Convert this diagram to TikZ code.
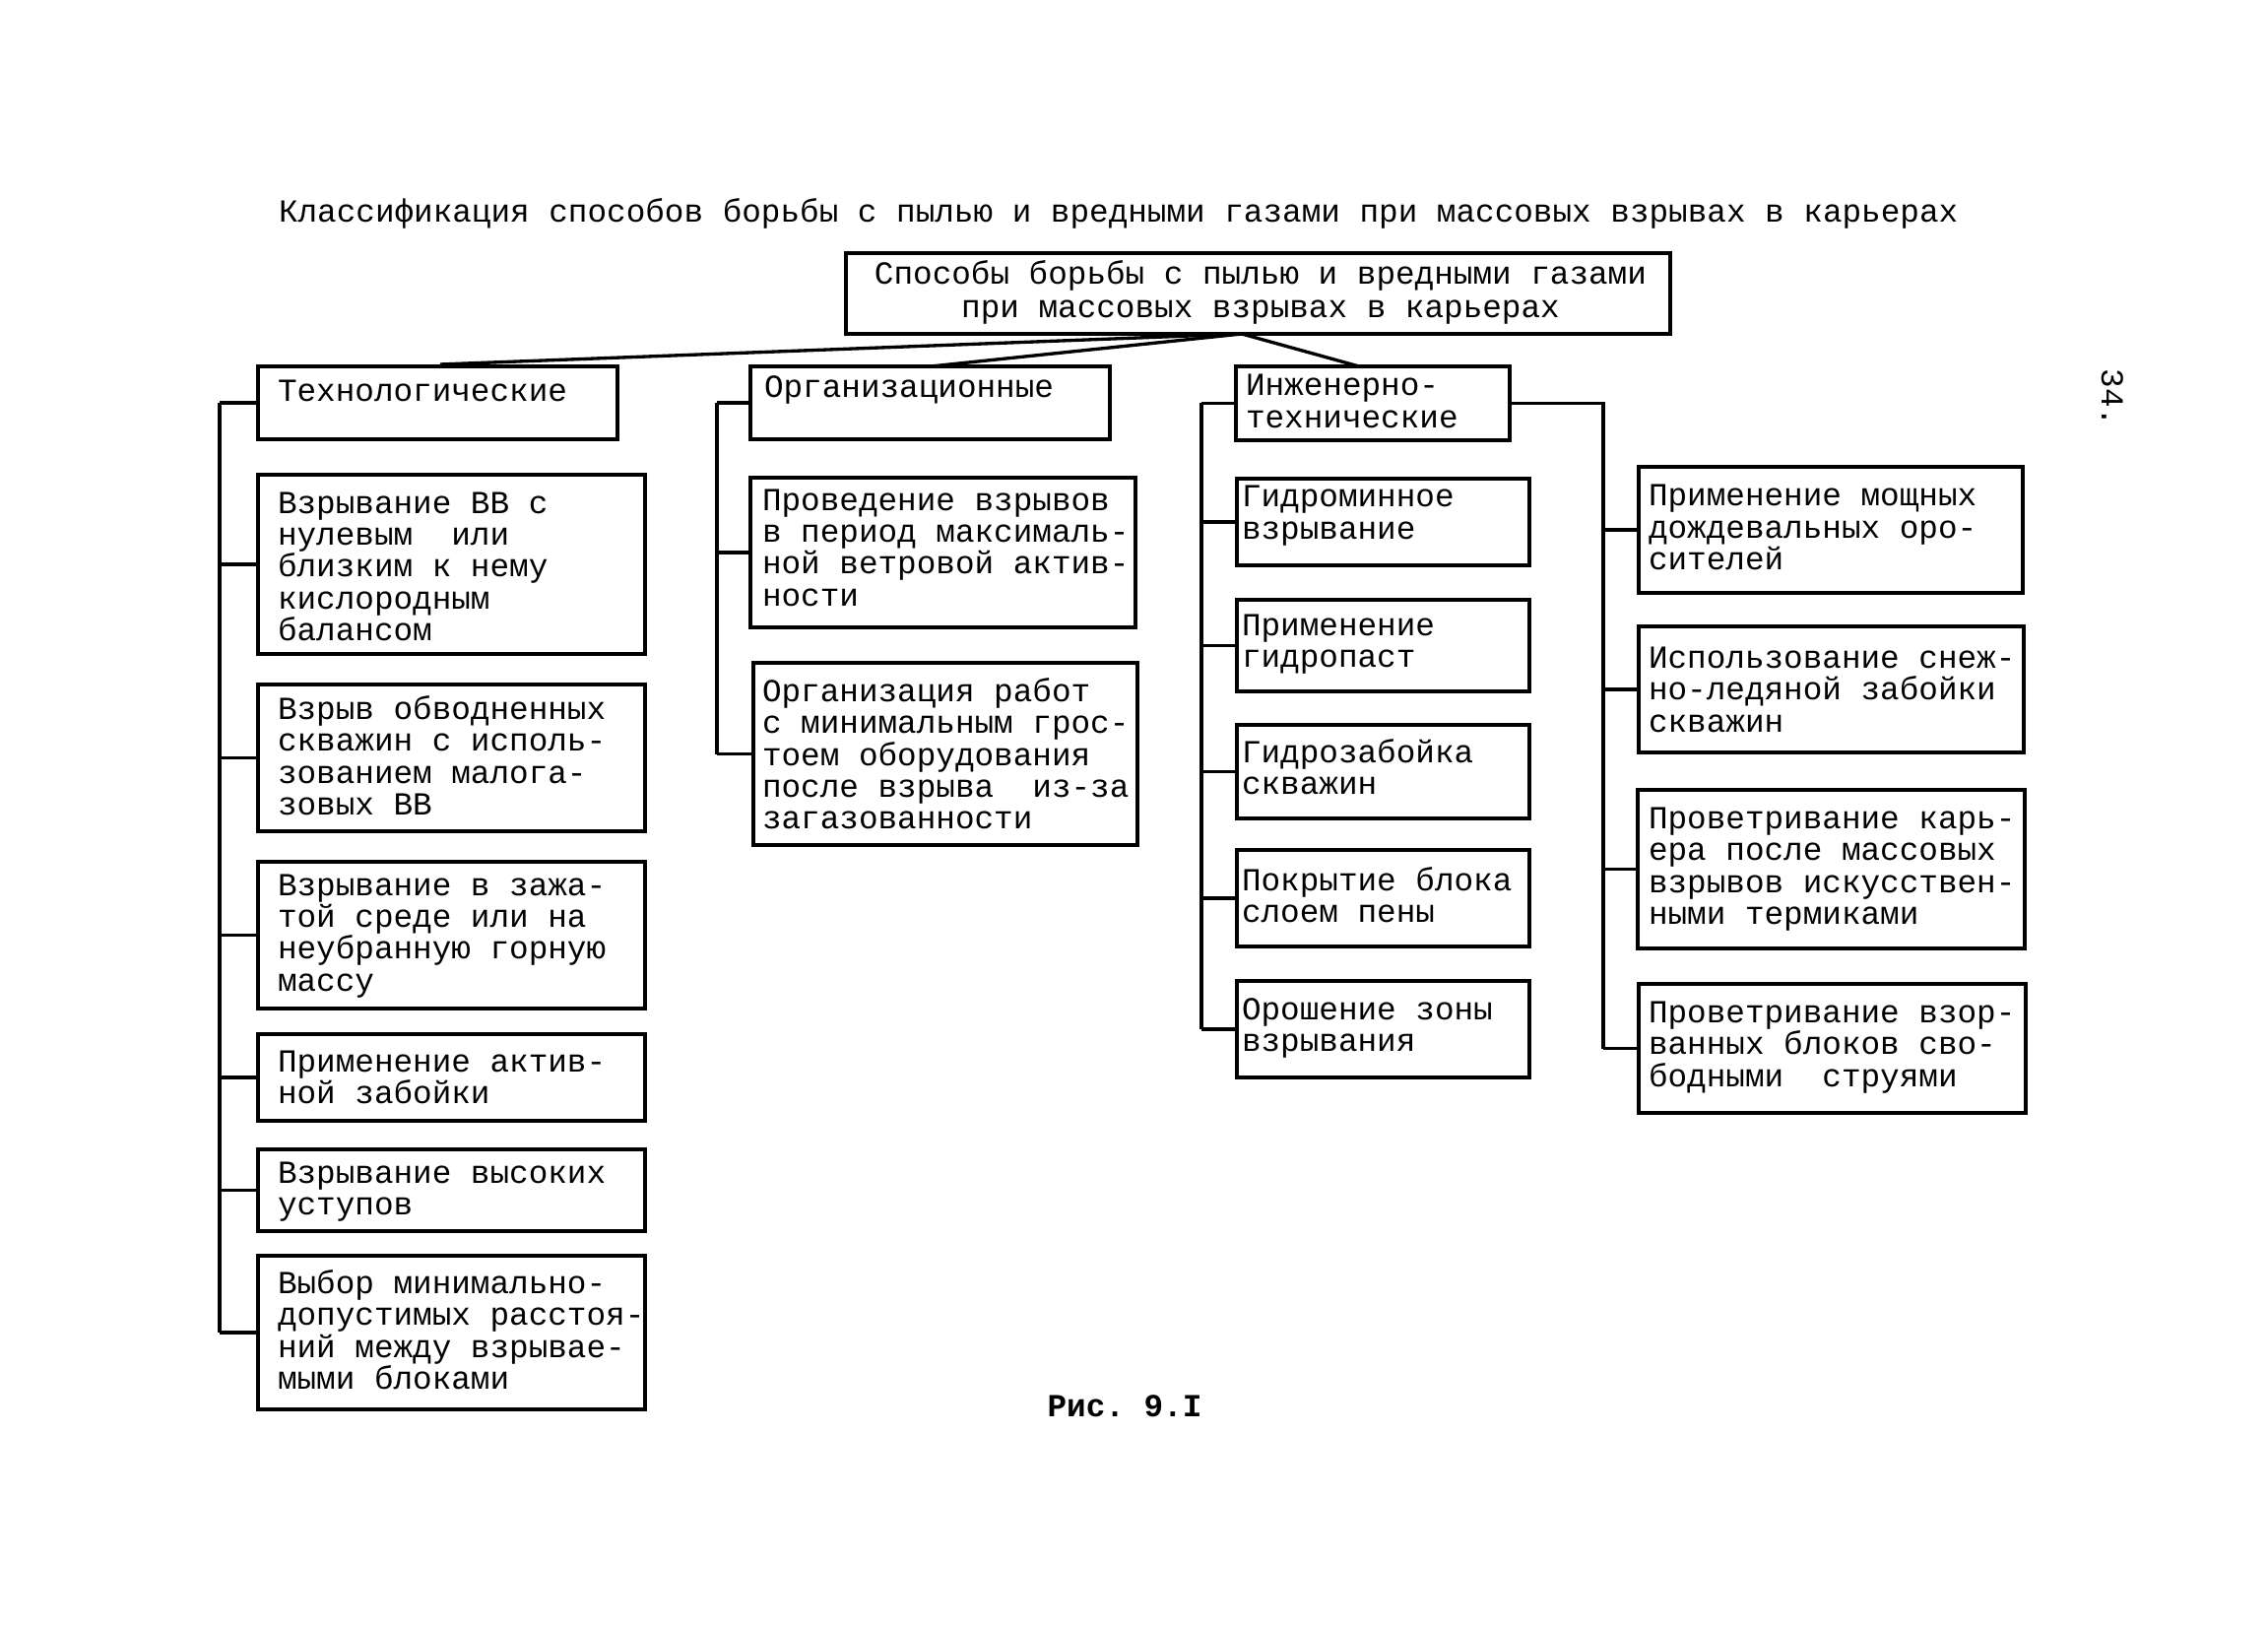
\documentclass[tikz,border=0pt]{standalone}
\usepackage{fontspec}
\setmainfont{Liberation Mono}
\frenchspacing
\newcommand{\dfont}{\fontsize{9.8pt}{9.75pt}\selectfont}
\newcommand{\mfont}{\fontsize{9.8pt}{10.2pt}\selectfont}
\newcommand{\fixsp}{\spaceskip=0.6em\relax\xspaceskip=0.6em\relax}
\tikzset{
  boxst/.style={draw, line width=1pt, rectangle, inner sep=0pt, outer sep=0pt},
  txtst/.style={inner sep=0pt, outer sep=0pt, align=left, font=\dfont},
  conn/.style={line width=1pt},
}
% name, x1, y1, x2, y2, text x, first baseline y, text
\newcommand{\bx}[8]{%
  \node[boxst, minimum width={(#4-#2)*0.3pt}, minimum height={(#5-#3)*0.3pt}] (#1) at ({(#2+#4)/2},{(#3+#5)/2}) {};%
  \node[txtst, text width={(#4-#6+40)*0.3pt}, anchor=base west] (#1t) at (#6,#7) {\fixsp #8};%
}
\begin{document}
\begin{tikzpicture}[x=0.3pt, y=-0.3pt]
\fill[white] (0,0) rectangle (2303,1654);
\useasboundingbox (0,0) rectangle (2303,1654);

% title
\node[txtst, anchor=base west] (title) at (283,226)
  {Классификация способов борьбы с пылью и вредными газами при массовых взрывах в карьерах};

% main box
\node[boxst, minimum width={837*0.3pt}, minimum height={82*0.3pt}] (main) at (1277.5,298) {};
\node[txtst, align=center, font=\mfont, text width={820*0.3pt}, anchor=base] (maint) at (1280,289)
  {\fixsp Способы борьбы с пылью и вредными газами\\при массовых взрывах в карьерах};

% left column
\bx{T0}{262}{372}{627}{446}{282}{407}{Технологические}
\bx{T1}{262}{482}{655}{664}{282}{521}{Взрывание ВВ с\\нулевым~~или\\близким к нему\\кислородным\\балансом}
\bx{T2}{262}{695}{655}{844}{282}{730}{Взрыв обводненных\\скважин с исполь-\\зованием малога-\\зовых ВВ}
\bx{T3}{262}{875}{655}{1024}{282}{909}{Взрывание в зажа-\\той среде или на\\неубранную горную\\массу}
\bx{T4}{262}{1050}{655}{1138}{282}{1088}{Применение актив-\\ной забойки}
\bx{T5}{262}{1167}{655}{1250}{282}{1201}{Взрывание высоких\\уступов}
\bx{T6}{262}{1275}{655}{1431}{282}{1313}{Выбор минимально-\\допустимых расстоя-\\ний между взрывае-\\мыми блоками}

% organisational column
\bx{O0}{762}{372}{1127}{446}{776}{404}{Организационные}
\bx{O1}{762}{485}{1153}{637}{774}{518}{Проведение взрывов\\в период максималь-\\ной ветровой актив-\\ности}
\bx{O2}{765}{673}{1155}{858}{774}{712}{Организация работ\\с минимальным грос-\\тоем оборудования\\после взрыва~~из-за\\загазованности}

% engineering column
\bx{E0}{1255}{372}{1533}{447}{1265}{402}{Инженерно-\\технические}
\bx{E1}{1256}{486}{1553}{574}{1261}{515}{Гидроминное\\взрывание}
\bx{E2}{1256}{609}{1553}{702}{1261}{645}{Применение\\гидропаст}
\bx{E3}{1256}{736}{1553}{831}{1261}{774}{Гидрозабойка\\скважин}
\bx{E4}{1256}{863}{1553}{961}{1261}{904}{Покрытие блока\\слоем пены}
\bx{E5}{1256}{996}{1553}{1094}{1261}{1035}{Орошение зоны\\взрывания}

% right column
\bx{R1}{1664}{474}{2054}{602}{1674}{514}{Применение мощных\\дождевальных оро-\\сителей}
\bx{R2}{1664}{636}{2055}{764}{1674}{678}{Использование снеж-\\но-ледяной забойки\\скважин}
\bx{R3}{1663}{802}{2056}{963}{1674}{841}{Проветривание карь-\\ера после массовых\\взрывов искусствен-\\ными термиками}
\bx{R4}{1664}{999}{2057}{1130}{1674}{1038}{Проветривание взор-\\ванных блоков сво-\\бодными~~струями}

% fan from main box
\coordinate (hub) at (1261,339);
\coordinate (fT) at (447,370);
\coordinate (fO) at (945,372);
\coordinate (fE) at (1380,372);
\draw[conn] (hub) -- (fT);
\draw[conn] (hub) -- (fO);
\draw[conn] (hub) -- (fE);

% spines
\coordinate (lsp) at (223,0);
\coordinate (osp) at (728,0);
\coordinate (esp) at (1220,0);
\coordinate (rsp) at (1628,0);
\draw[conn] (T0.west -| lsp) -- (T6.west -| lsp);
\foreach \n in {T0,T1,T2,T3,T4,T5,T6} \draw[conn] (\n.west) -- (\n.west -| lsp);
\draw[conn] (O0.west -| osp) -- (O2.west -| osp);
\foreach \n in {O0,O1,O2} \draw[conn] (\n.west) -- (\n.west -| osp);
\draw[conn] (E0.west -| esp) -- (E5.west -| esp);
\foreach \n in {E0,E1,E2,E3,E4,E5} \draw[conn] (\n.west) -- (\n.west -| esp);
\draw[conn] (E0.east) -- (E0.east -| rsp) -- (R4.west -| rsp);
\foreach \n in {R1,R2,R3,R4} \draw[conn] (\n.west) -- (\n.west -| rsp);

% caption and page number
\node[txtst, font=\dfont\bfseries, anchor=base] (fig) at (1142,1438) {Рис. 9.I};
\node[txtst, rotate=-90] (pg) at (2145,404) {34.};
\end{tikzpicture}
\end{document}
